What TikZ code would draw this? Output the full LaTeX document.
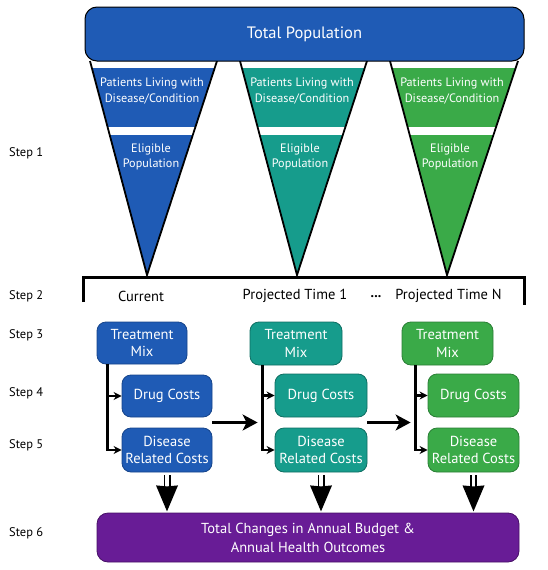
\documentclass[tikz,border=0pt]{standalone}
\usepackage{fontspec}
\setmainfont{PT Sans}
\usetikzlibrary{arrows.meta,calc}
\definecolor{cblue}{HTML}{1F5BB5}
\definecolor{cblueD}{HTML}{16448A}
\definecolor{cteal}{HTML}{169C8C}
\definecolor{ctealD}{HTML}{0F6E62}
\definecolor{cgreen}{HTML}{3AAA48}
\definecolor{cgreenD}{HTML}{2A7E35}
\definecolor{cpurple}{HTML}{681C96}
\definecolor{cpurpleD}{HTML}{471066}
\tikzset{
  rbox/.style={rounded corners=9pt, line width=0.8pt, text=white, align=center,
    font=\fontsize{14.5}{17.5}\selectfont, inner sep=0pt},
  steplabel/.style={anchor=west, font=\fontsize{12.5}{14}\selectfont, inner sep=0pt},
  collabel/.style={font=\fontsize{14.5}{16}\selectfont, inner sep=0pt},
  tritext/.style={text=white, align=center, font=\fontsize{12.2}{15.5}\selectfont, inner sep=0pt},
  branch/.style={line width=2.6pt, -{Stealth[length=8pt,width=8pt]}},
  bigarrow/.style={line width=2.4pt, -{Stealth[length=15pt,width=16pt,inset=4pt]}},
}
\newcommand{\mytri}[4]{% left, right, apex x, color
  \fill[#4] (#1,61) -- (#2,61) -- (#3,275) -- cycle;
  \begin{scope}
    \clip (#1,61) -- (#2,61) -- (#3,275) -- cycle;
    \fill[white] (#1-5,61) rectangle (#2+5,68);
    \fill[white] (#1-5,127) rectangle (#2+5,135);
  \end{scope}
  \draw[line width=1.8pt, line join=miter] (#1,61) -- (#3,275) -- (#2,61);
}
\newcommand{\dblarrow}[1]{% node name
  \draw[line width=1.8pt] ([xshift=-2.6pt,yshift=-3pt]#1.south) -- ++(0,24);
  \draw[line width=1.8pt] ([xshift=2.6pt,yshift=-3pt]#1.south) -- ++(0,24);
  \fill ($(#1.south)+(0,14)$) -- ++(11,-1) -- ++(-11,26) -- ++(-11,-26) -- ++(11,1) -- cycle;
}
\begin{document}
\begin{tikzpicture}[x=1pt,y=-1pt]
\useasboundingbox (0,0) rectangle (547,570);

% triangles
\mytri{90}{217}{147}{cblue}
\mytri{240}{367}{297}{cteal}
\mytri{390}{518}{447}{cgreen}

% total population
\node[rbox, draw=black, fill=cblue, rounded corners=12pt, line width=1pt,
  minimum width=439pt, minimum height=54pt, font=\fontsize{16.5}{18}\selectfont]
  (tp) at (304.5,34) {Total Population};

% triangle texts
\node[tritext] (p1) at (152,91) {Patients Living with\\Disease/Condition};
\node[tritext] (p2) at (302,91) {Patients Living with\\Disease/Condition};
\node[tritext] (p3) at (452,91) {Patients Living with\\Disease/Condition};
\node[tritext] (e1) at (151,157) {Eligible\\Population};
\node[tritext] (e2) at (300,157) {Eligible\\Population};
\node[tritext] (e3) at (450,157) {Eligible\\Population};

% bracket
\draw[line width=3pt, line join=miter] (83,302) -- (83,277) -- (524,277) -- (524,305);

% step labels
\node[steplabel] (s1) at (9,153) {Step 1};
\node[steplabel] (s2) at (9,296) {Step 2};
\node[steplabel] (s3) at (9,335) {Step 3};
\node[steplabel] (s4) at (9,393) {Step 4};
\node[steplabel] (s5) at (9,445) {Step 5};
\node[steplabel] (s6) at (9,533) {Step 6};

% column labels
\node[collabel] (c1) at (141,296) {Current};
\node[collabel] (c2) at (295,296) {Projected Time 1};
\node[collabel, font=\bfseries\fontsize{14}{16}\selectfont] (c3) at (376,297) {...};
\node[collabel] (c4) at (448.5,296) {Projected Time N};

% boxes
\node[rbox, fill=cblue, draw=cblueD, minimum width=90pt, minimum height=42pt] (tm1) at (142,343) {Treatment\\Mix};
\node[rbox, fill=cteal, draw=ctealD, minimum width=92pt, minimum height=43pt] (tm2) at (296,343.5) {Treatment\\Mix};
\node[rbox, fill=cgreen, draw=cgreenD, minimum width=91pt, minimum height=43pt] (tm3) at (447.5,343.5) {Treatment\\Mix};

\node[rbox, fill=cblue, draw=cblueD, minimum width=90pt, minimum height=42pt] (dc1) at (167,396) {Drug Costs};
\node[rbox, fill=cteal, draw=ctealD, minimum width=92pt, minimum height=43pt] (dc2) at (321,395.5) {Drug Costs};
\node[rbox, fill=cgreen, draw=cgreenD, minimum width=91pt, minimum height=43pt] (dc3) at (473.5,395.5) {Drug Costs};

\node[rbox, fill=cblue, draw=cblueD, minimum width=90pt, minimum height=44pt] (dr1) at (167,450) {Disease\\Related Costs};
\node[rbox, fill=cteal, draw=ctealD, minimum width=92pt, minimum height=44pt] (dr2) at (321,450) {Disease\\Related Costs};
\node[rbox, fill=cgreen, draw=cgreenD, minimum width=91pt, minimum height=44pt] (dr3) at (473.5,450) {Disease\\Related Costs};

\node[rbox, fill=cpurple, draw=cpurpleD, rounded corners=11pt, minimum width=422pt, minimum height=49pt,
  font=\fontsize{14.5}{19}\selectfont] (tot) at (308,537.5) {Total Changes in Annual Budget \&\\Annual Health Outcomes};

% branches
\foreach \i/\off in {1/11,2/13,3/14}{
  \coordinate (b\i) at ([xshift=\off pt]tm\i.south west);
  \draw[branch] (b\i) |- (dc\i.west);
  \draw[branch] (b\i) |- (dr\i.west);
}

% horizontal arrows between columns
\coordinate (m1) at ($(dc1.south east)!0.5!(dr1.north east)$);
\coordinate (m2) at ($(dc2.south east)!0.5!(dr2.north east)$);
\draw[bigarrow] (m1) -- ($(m1 -| b2)+(-5,0)$);
\draw[bigarrow] (m2) -- ($(m2 -| b3)+(-5,0)$);

% double arrows
\dblarrow{dr1}
\dblarrow{dr2}
\dblarrow{dr3}
\end{tikzpicture}
\end{document}
